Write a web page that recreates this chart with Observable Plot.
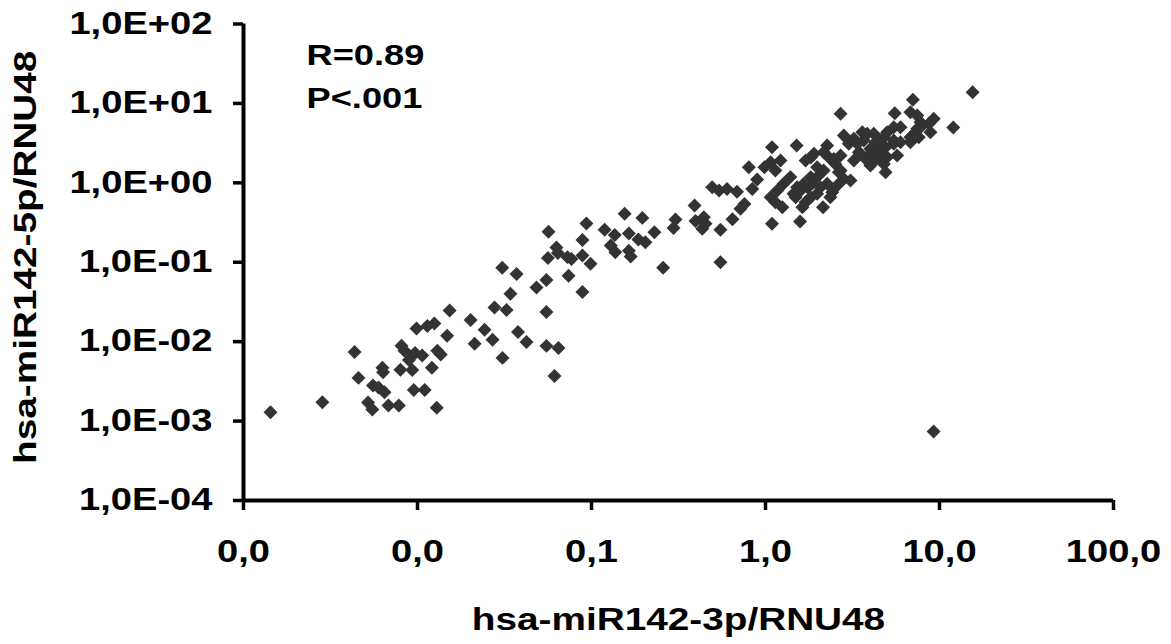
<!DOCTYPE html>
<html>
<head>
<meta charset="utf-8">
<script src="https://cdn.jsdelivr.net/npm/d3@7"></script>
<script src="https://cdn.jsdelivr.net/npm/@observablehq/plot@0.6"></script>
<style>
  html, body { margin: 0; padding: 0; background: #fff; }
  #chart { width: 1171px; height: 644px; }
</style>
</head>
<body>
<div id="chart"></div>
<script>
// x: hsa-miR142-3p/RNU48
const xs = [
  0.00143, 0.00284, 0.00435, 0.00458, 0.0052, 0.0055, 0.00555, 0.00597, 0.00646, 0.00629,
  0.00634, 0.00681, 0.00781, 0.00798, 0.00809, 0.00842, 0.00933, 0.00893, 0.00968, 0.01064,
  0.00952, 0.0110, 0.00987, 0.0114, 0.0125, 0.0121, 0.0130, 0.0136, 0.0129, 0.0148,
  0.0153, 0.0202, 0.0213, 0.0243, 0.0270, 0.0277, 0.0325, 0.0308, 0.0342, 0.0378,
  0.0423, 0.0483, 0.0551, 0.0551, 0.0551, 0.0646, 0.0613, 0.0887, 0.0738, 0.0307,
  0.0371, 0.0562, 0.0629, 0.0641, 0.0728, 0.0767, 0.0887, 0.0987, 0.0566, 0.0935,
  0.0887, 0.119, 0.136, 0.155, 0.196, 0.164, 0.186, 0.204, 0.230, 0.129,
  0.137, 0.164, 0.168, 0.258, 0.304, 0.296, 0.391, 0.396, 0.442, 0.433,
  0.452, 0.551, 0.646, 0.551, 0.718, 0.757, 0.839, 0.494, 0.541, 0.601,
  0.686, 0.802, 0.895, 1.09, 1.51, 0.986, 1.07, 1.22, 1.14, 1.09,
  1.58, 1.39, 1.27, 1.17, 1.07, 1.14, 1.25, 1.52, 1.45, 1.59,
  1.49, 1.74, 1.85, 1.98, 2.16, 2.14, 1.90, 1.82, 1.98, 1.70,
  1.63, 1.70, 1.82, 1.98, 2.07, 1.66, 1.82, 2.26, 2.16, 2.31,
  2.70, 3.60, 3.22, 3.01, 2.82, 4.19, 4.29, 4.01, 4.10, 3.52,
  3.22, 2.70, 2.52, 2.70, 3.08, 2.82, 2.58, 2.42, 2.26, 2.47,
  2.64, 2.36, 3.84, 4.01, 3.37, 3.44, 3.67, 3.84, 3.84, 5.53,
  7.03, 6.81, 7.45, 9.27, 8.69, 12.0, 8.87, 7.96, 7.28, 6.81,
  5.46, 5.00, 4.79, 4.58, 5.46, 5.71, 5.00, 4.90, 15.5, 5.97,
  6.81, 4.90, 4.58, 5.97, 5.46, 4.39, 4.58, 4.29, 4.79, 7.60,
  7.78, 7.45, 9.25
];
// y: hsa-miR142-5p/RNU48
const ys = [
  0.00129, 0.00173, 0.0074, 0.0035, 0.00171, 0.0014, 0.0028, 0.00264, 0.00231, 0.00468,
  0.00412, 0.00157, 0.00157, 0.00442, 0.0089, 0.0077, 0.00439, 0.00586, 0.0072, 0.0067,
  0.00247, 0.00247, 0.0146, 0.0157, 0.0169, 0.00468, 0.0077, 0.0069, 0.00147, 0.0119,
  0.0247, 0.0188, 0.0094, 0.0141, 0.01054, 0.0269, 0.0250, 0.00625, 0.040, 0.0132,
  0.0099, 0.048, 0.0597, 0.0236, 0.00885, 0.0083, 0.00369, 0.0422, 0.0675, 0.085,
  0.071, 0.113, 0.153, 0.131, 0.116, 0.110, 0.122, 0.0955, 0.242, 0.307,
  0.191, 0.256, 0.220, 0.407, 0.362, 0.230, 0.193, 0.179, 0.239, 0.162,
  0.134, 0.140, 0.118, 0.085, 0.345, 0.270, 0.518, 0.330, 0.369, 0.264,
  0.305, 0.256, 0.347, 0.100, 0.471, 0.541, 0.839, 0.881, 0.800, 0.839,
  0.771, 1.57, 1.10, 2.81, 2.95, 1.57, 1.82, 1.91, 1.43, 0.305,
  0.326, 1.18, 0.971, 0.800, 0.659, 0.570, 0.493, 0.881, 0.727, 0.800,
  0.659, 0.881, 0.971, 1.18, 1.43, 0.493, 2.32, 2.08, 1.57, 1.91,
  0.493, 0.570, 0.659, 0.727, 0.881, 0.971, 1.18, 2.95, 2.43, 2.10,
  7.40, 4.34, 3.58, 3.10, 3.94, 4.14, 3.24, 2.68, 2.32, 2.32,
  1.91, 2.21, 1.73, 1.43, 1.07, 1.12, 0.925, 0.762, 0.971, 2.00,
  1.36, 0.659, 1.91, 1.65, 3.10, 2.43, 3.41, 4.14, 2.10, 7.53,
  11.1, 7.74, 7.05, 6.40, 5.53, 4.97, 4.34, 5.27, 4.34, 3.75,
  5.01, 4.34, 3.75, 3.10, 3.10, 2.21, 2.10, 1.36, 13.8, 5.01,
  3.24, 2.81, 2.43, 3.24, 3.41, 2.55, 2.10, 2.00, 1.73, 3.75,
  5.79, 4.79, 0.00074
];

const xTicks = [0.001, 0.01, 0.1, 1, 10, 100];
const xTickLabels = ["0,0", "0,0", "0,1", "1,0", "10,0", "100,0"];
const yTicks = [1e-4, 1e-3, 1e-2, 1e-1, 1, 10, 100];
const yTickLabels = ["1,0E-04", "1,0E-03", "1,0E-02", "1,0E-01", "1,0E+00", "1,0E+01", "1,0E+02"];
const xTitle = "hsa-miR142-3p/RNU48";
const yTitle = "hsa-miR142-5p/RNU48";
const statsText = "R=0.89\nP<.001";

const data = xs.map((x, i) => ({x, y: ys[i]}));
const xLabelOf = d => xTickLabels[xTicks.findIndex(t => Math.abs(Math.log10(t) - Math.log10(d)) < 1e-6)];
const yLabelOf = d => yTickLabels[yTicks.findIndex(t => Math.abs(Math.log10(t) - Math.log10(d)) < 1e-6)];

const plot = Plot.plot({
  width: 1171,
  height: 644,
  marginLeft: 243,
  marginRight: 58,
  marginTop: 23.5,
  marginBottom: 144,
  style: {
    fontFamily: "'Liberation Sans', Arial, sans-serif",
    fontWeight: "bold",
    color: "#000",
    background: "#fff",
    overflow: "visible"
  },
  x: {type: "log", domain: [1e-3, 100]},
  y: {type: "log", domain: [1e-4, 100]},
  marks: [
    Plot.axisX(xTicks, {
      tickFormat: xLabelOf,
      tickSize: 10,
      tickPadding: 30,
      fontSize: 30.5,
      stroke: "#000",
      strokeWidth: 3.5,
      label: null
    }),
    Plot.axisY(yTicks, {
      tickFormat: yLabelOf,
      tickSize: 10,
      tickPadding: 21,
      fontSize: 30.5,
      stroke: "#000",
      strokeWidth: 3.5,
      label: null
    }),
    Plot.ruleY([1e-4], {stroke: "#000", strokeWidth: 4}),
    Plot.ruleX([1e-3], {stroke: "#000", strokeWidth: 4}),
    Plot.dot(data, {x: "x", y: "y", symbol: "diamond2", r: 6.3, fill: "#333333", stroke: "none"}),
    Plot.text([statsText], {
      frameAnchor: "top-left", textAnchor: "start", lineAnchor: "top",
      dx: 63, dy: 10, lineHeight: 1.5, fontSize: 29, fill: "#000"
    }),
    Plot.text([xTitle], {
      frameAnchor: "bottom", textAnchor: "middle", lineAnchor: "middle",
      dy: 120, fontSize: 31, fill: "#000"
    }),
    Plot.text([yTitle], {
      frameAnchor: "left", textAnchor: "middle", lineAnchor: "middle",
      rotate: -90, dx: -217.6, dy: -5, fontSize: 31, fill: "#000"
    })
  ]
});

// Thicker tick lines and axis rules
for (const g of plot.querySelectorAll('g[aria-label$="-axis tick"], g[aria-label="rule"]')) {
  g.setAttribute("stroke", "#000");
  g.setAttribute("stroke-width", g.getAttribute("aria-label") === "rule" ? "4" : "3.5");
  for (const el of g.querySelectorAll("*")) {
    el.removeAttribute("stroke-width");
  }
}

// Horizontal stretch of all text, as in the original (resized) chart
const SX = 1.25;
for (const t of plot.querySelectorAll("text")) {
  const tr = t.getAttribute("transform");
  if (tr) {
    t.setAttribute("transform", tr + ` scale(${SX},1)`);
  } else {
    const x = +(t.getAttribute("x") || 0);
    t.setAttribute("transform", `translate(${x},0) scale(${SX},1) translate(${-x},0)`);
  }
}

document.getElementById("chart").appendChild(plot);
</script>
</body>
</html>
